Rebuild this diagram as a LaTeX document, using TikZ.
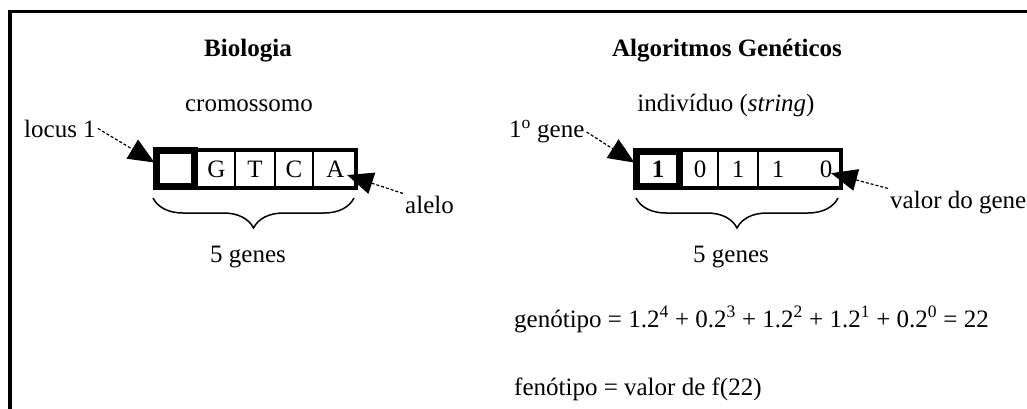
\documentclass[tikz,border=0pt]{standalone}
\usepackage{fontspec}
\setmainfont{Liberation Serif}
\usetikzlibrary{arrows.meta, decorations.pathreplacing}
\tikzstyle{txt}=[inner sep=2pt, font=\fontsize{25}{30}\selectfont]
\tikzstyle{outline}=[line width=4pt]
\tikzstyle{firstcell}=[line width=7pt]
\tikzstyle{cellline}=[line width=2pt]
\tikzstyle{pointer}=[line width=1.2pt, dash pattern=on 3pt off 2pt, -{Triangle[length=26pt,width=22pt,sep=-3pt]}]
\tikzstyle{genbrace}=[line width=1.5pt, decorate, decoration={brace,mirror,amplitude=30pt}]

\begin{document}
\begin{tikzpicture}[x=1pt,y=-1pt]
\useasboundingbox (0,0) rectangle (1027,409);
% moldura (so topo e lado esquerdo)
\draw[line width=3.5pt] (10,409) -- (10,11.5) -- (1027,11.5);

% titulos
\node[txt,anchor=base] (bio) at (248,57) {\textbf{Biologia}};
\node[txt,anchor=base] (ag) at (727,57) {\textbf{Algoritmos Genéticos}};
\node[txt,anchor=base] (crom) at (249,112) {cromossomo};
\node[txt,anchor=base] (indiv) at (726,112) {indivíduo (\textit{string})};

% cromossomo
\draw[outline] (155,149.5) rectangle (355.5,188);
\foreach \x in {235,275,313}
	\draw[cellline] (\x,149.5) -- (\x,188);
\draw[firstcell] (156.5,150.5) rectangle (194.5,186.5);
\foreach \x/\b [count=\i] in {216.5/G,255/T,294/C,335.5/A}
	\node[txt,anchor=base] (base\i) at (\x,177) {\b};

% individuo
\draw[outline] (635,150) rectangle (841,188);
\foreach \x in {718,758}
	\draw[cellline] (\x,150) -- (\x,188);
\draw[firstcell] (636.5,151.5) rectangle (679.5,186.5);
\node[txt,anchor=base] (bit1) at (658,177) {\textbf{1}};
\foreach \x/\b [count=\i from 2] in {700/0,738/1,778/1,826/0}
	\node[txt,anchor=base] (bit\i) at (\x,177) {\b};

% setas
\node[txt,anchor=base west] (locus) at (22,137) {locus 1};
\coordinate (locustip) at (152,161);
\draw[pointer] (locus.east) -- (locustip);
\node[txt,anchor=base west] (alelo) at (403,213) {alelo};
\coordinate (alelotip) at (350,176);
\draw[pointer] (alelo.north west) -- (alelotip);
\node[txt,anchor=base west] (gene) at (507,138) {1\textsuperscript{o} gene};
\coordinate (genetip) at (632,161);
\draw[pointer] (gene.east) -- (genetip);
\node[txt,anchor=base west] (valor) at (888,208) {valor do gene};
\coordinate (valortip) at (834,174);
\draw[pointer] (valor.north west) -- (valortip);

% chaves
\draw[genbrace] (153,198) -- (354,198);
\node[txt,anchor=base] (genesA) at (248,262) {5 genes};
\draw[genbrace] (636,198) -- (838,198);
\node[txt,anchor=base] (genesB) at (731,262) {5 genes};

% genotipo / fenotipo
\node[txt,anchor=base west] (genotipo) at (512,327) {genótipo = 1.2\textsuperscript{4} + 0.2\textsuperscript{3} + 1.2\textsuperscript{2} + 1.2\textsuperscript{1} + 0.2\textsuperscript{0} = 22};
\node[txt,anchor=base west] (fenotipo) at (512,395) {fenótipo = valor de f(22)};
\end{tikzpicture}
\end{document}
